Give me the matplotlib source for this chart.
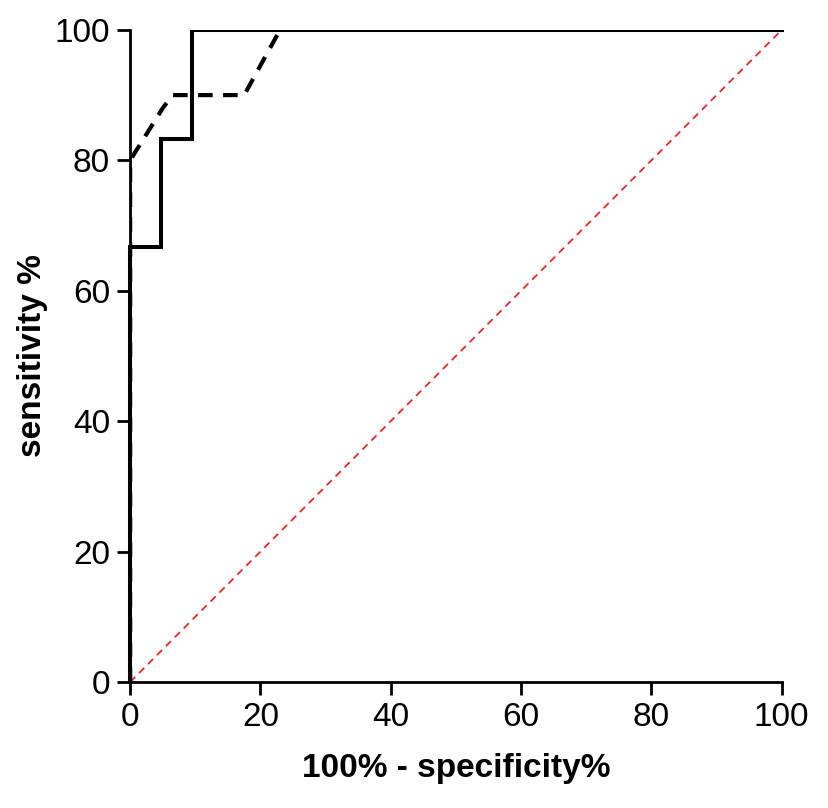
import numpy as np
import matplotlib.pyplot as plt
from matplotlib.patches import Rectangle

plt.rcParams['font.family'] = ['Liberation Sans', 'DejaVu Sans']

# ROC curve 1 (solid)
fpr_a = [0, 0, 4.76, 4.76, 9.52, 9.52, 100]
tpr_a = [0, 66.7, 66.7, 83.3, 83.3, 100, 100]

# ROC curve 2 (dashed)
fpr_b = [0, 0, 5.0, 6.5, 17.5, 23.0, 100]
tpr_b = [0, 80, 88, 90, 90, 100, 100]

# reference line
ref_x = [0, 100]
ref_y = [0, 100]

ticks = [0, 20, 40, 60, 80, 100]

fig = plt.figure(figsize=(8.29, 8.08), dpi=100)
ax = fig.add_axes([0.157, 0.156, 0.786, 0.807])

ax.plot(ref_x, ref_y, color='#e8262a', lw=1.3, ls=(0, (4, 3)), zorder=1)
ax.plot(fpr_b, tpr_b, color='black', lw=3.0, ls=(0, (3.5, 2.5)), zorder=2)
line_a, = ax.plot(fpr_a, tpr_a, color='black', lw=2.9, zorder=3,
                  solid_joinstyle='miter')
# let the curve spill over the left spine but stay clipped at the top
line_a.set_clip_path(Rectangle((-5, -5), 110, 105, transform=ax.transData))

ax.set_xlim(0, 100)
ax.set_ylim(0, 100)
ax.set_xticks(ticks)
ax.set_yticks(ticks)
for s in ['top', 'right']:
    ax.spines[s].set_visible(False)
for s in ['left', 'bottom']:
    ax.spines[s].set_linewidth(2.0)
ax.tick_params(length=9.5, width=2.0, labelsize=24, pad=5)

ax.set_xlabel('100% - specificity%', fontsize=24, fontweight='bold', labelpad=14)
ax.set_ylabel('sensitivity %', fontsize=24, fontweight='bold', labelpad=5)

fig.savefig('out.png', dpi=100)
